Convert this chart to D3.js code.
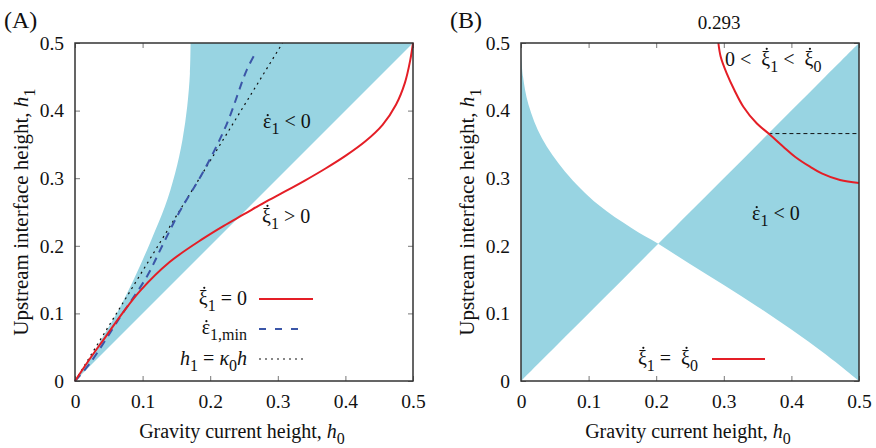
<!DOCTYPE html>
<html>
<head>
<meta charset="utf-8">
<script src="https://cdn.jsdelivr.net/npm/d3@7"></script>
<style>
  body { margin: 0; background: #fff; }
  svg { display: block; }
</style>
</head>
<body>
<div id="chart"></div>
<script>
const tickVals = [0, 0.1, 0.2, 0.3, 0.4, 0.5];
const tickLabels = ['0', '0.1', '0.2', '0.3', '0.4', '0.5'];

// panel A : upper edge of the shaded region (lower edge is h1 = h0)
const shadeA_h0 = [0, 0.025, 0.047, 0.067, 0.091, 0.113, 0.133, 0.148, 0.159, 0.166, 0.170, 0.171];
const shadeA_h1 = [0, 0.038, 0.075, 0.110, 0.159, 0.209, 0.258, 0.307, 0.357, 0.406, 0.455, 0.5];

// panel A : xi1 dot = 0
const redA_h0 = [0, 0.02, 0.045, 0.07, 0.096, 0.14, 0.19, 0.22, 0.25, 0.28, 0.31, 0.34, 0.37, 0.40, 0.43, 0.455, 0.475, 0.488, 0.496, 0.5];
const redA_h1 = [0, 0.03, 0.065, 0.10, 0.133, 0.176, 0.211, 0.2296, 0.2467, 0.264, 0.28, 0.2965, 0.314, 0.333, 0.355, 0.379, 0.409, 0.441, 0.475, 0.5];

// panel A : eps1,min
const blueA_h0 = [0, 0.022, 0.067, 0.106, 0.131, 0.155, 0.19, 0.224, 0.254, 0.268];
const blueA_h1 = [0, 0.026, 0.095, 0.154, 0.204, 0.251, 0.31, 0.379, 0.46, 0.487];

// panel A : h1 = kappa0 h
const dotA_h0 = [0, 0.307];
const dotA_h1 = [0, 0.5];

// panel B : boundary curve (shaded between it and h1 = h0)
const shadeB_h0 = [0, 0.003, 0.011, 0.031, 0.065, 0.114, 0.164, 0.203, 0.25, 0.30, 0.35, 0.40, 0.45, 0.5];
const shadeB_h1 = [0.485, 0.45, 0.409, 0.359, 0.31, 0.261, 0.226, 0.203, 0.173, 0.142, 0.11, 0.076, 0.040, 0];

// panel B : xi1 dot = xi0 dot
const redB_h0 = [0.292, 0.2954, 0.3043, 0.3156, 0.3289, 0.3486, 0.3659, 0.388, 0.4053, 0.4275, 0.4448, 0.4719, 0.5];
const redB_h1 = [0.5, 0.4797, 0.4551, 0.4305, 0.4058, 0.3812, 0.3664, 0.3466, 0.3318, 0.317, 0.3072, 0.2973, 0.293];

// panel B : horizontal dashed level
const dashB_h0 = [0.366, 0.5];
const dashB_h1 = [0.366, 0.366];

const W = 876, H = 448;
const size = 338, plotTop = 43;
const fillCol = '#98d4e2', redCol = '#e41e26', blueCol = '#3b56a8';
const FS = 20;
const TICK_FS = 19.5;
const FONT = '"Liberation Serif"';
const smooth = d3.curveCatmullRom.alpha(0.5);

const svg = d3.select('#chart').append('svg').attr('width', W).attr('height', H);

// text with subscripts, italics and dotted letters (dot: 'x' short letter, 't' tall letter)
function rich(sel, x, y, parts, anchor, fs) {
  fs = fs || FS;
  const t = sel.append('text').attr('x', x).attr('y', y)
    .attr('text-anchor', anchor || 'start').attr('font-size', fs)
    .attr('xml:space', 'preserve').style('white-space', 'pre')
    .style('font-family', FONT).attr('fill', '#111');
  let shift = 0, n = 0;
  const dots = [];
  parts.forEach(p => {
    const ts = t.append('tspan').text(p.t);
    const want = p.sub ? fs * 0.32 : 0;
    if (want !== shift) { ts.attr('dy', want - shift); shift = want; }
    if (p.sub) ts.attr('font-size', fs * 0.8);
    if (p.i) ts.attr('font-style', 'italic');
    if (p.dot) dots.push({ idx: n, kind: p.dot });
    n += p.t.length;
  });
  const max = t.node().getNumberOfChars();
  dots.forEach(d => {
    if (d.idx >= max) return;
    const e = t.node().getExtentOfChar(d.idx);
    sel.append('circle')
      .attr('cx', e.x + e.width / 2 + (d.kind === 't' ? 1 : 0.5))
      .attr('cy', y - fs * (d.kind === 't' ? 0.86 : 0.64))
      .attr('r', 1.1).attr('fill', '#111');
  });
  return t;
}

function panel(left, letter) {
  const x = d3.scaleLinear().domain([0, 0.5]).range([left, left + size]);
  const y = d3.scaleLinear().domain([0, 0.5]).range([plotTop + size, plotTop]);
  const g = svg.append('g');

  const fmt = (d, i) => tickLabels[i];
  const ax = (gen, tr) => {
    const a = g.append('g').attr('transform', tr).call(gen);
    a.attr('font-family', null);
    a.select('.domain').remove();
    a.selectAll('.tick line').attr('stroke', '#777');
    a.selectAll('text').attr('font-size', TICK_FS).style('font-family', FONT).attr('fill', '#111');
    return a;
  };
  ax(d3.axisBottom(x).tickValues(tickVals).tickFormat(fmt).tickSize(-5).tickPadding(13), `translate(0,${plotTop + size})`);
  ax(d3.axisLeft(y).tickValues(tickVals).tickFormat(fmt).tickSize(-5).tickPadding(11), `translate(${left},0)`);
  ax(d3.axisTop(x).tickValues(tickVals).tickFormat('').tickSize(-5), `translate(0,${plotTop})`);
  ax(d3.axisRight(y).tickValues(tickVals).tickFormat('').tickSize(-5), `translate(${left + size},0)`);

  // titles
  rich(svg, left - 71, 28, [{ t: '(' + letter + ')' }], 'start', 24);
  rich(svg, left + size / 2 - 2, 438, [{ t: 'Gravity current height, ' }, { t: 'h', i: 1 }, { t: '0', sub: 1 }], 'middle', 20);
  rich(svg.append('g').attr('transform', `translate(${left - 47},${plotTop + size / 2}) rotate(-90)`), 0, 0,
    [{ t: 'Upstream interface height, ' }, { t: 'h', i: 1 }, { t: '1', sub: 1 }], 'middle', 21);

  return { g, x, y };
}

// ---------- panel A ----------
{
  const { g, x, y } = panel(75, 'A');
  const pts = shadeA_h0.map((d, i) => [d, shadeA_h1[i]]);
  const upper = d3.line().x(d => x(d[0])).y(d => y(d[1])).curve(smooth);
  const path = upper(pts) + `L${x(0.5)},${y(0.5)}L${x(0)},${y(0)}Z`;
  g.append('path').attr('d', path).attr('fill', fillCol);

  const ln = (xs, ys, curve) => d3.line().x((d, i) => x(xs[i])).y((d, i) => y(ys[i])).curve(curve)(xs);
  g.append('path').attr('d', ln(dotA_h0, dotA_h1, d3.curveLinear))
    .attr('fill', 'none').attr('stroke', '#111').attr('stroke-width', 1.2).attr('stroke-dasharray', '2,4');
  g.append('path').attr('d', ln(blueA_h0, blueA_h1, smooth))
    .attr('fill', 'none').attr('stroke', blueCol).attr('stroke-width', 2).attr('stroke-dasharray', '8,6');
  g.append('path').attr('d', ln(redA_h0, redA_h1, smooth))
    .attr('fill', 'none').attr('stroke', redCol).attr('stroke-width', 2);

  g.append('rect').attr('x', x(0)).attr('y', y(0.5)).attr('width', size).attr('height', size)
    .attr('fill', 'none').attr('stroke', '#333').attr('stroke-width', 1.5);

  rich(g, 263, 128, [{ t: 'ε', dot: 'x' }, { t: '1', sub: 1 }, { t: ' < 0' }]);
  rich(g, 262, 223, [{ t: 'ξ', dot: 't' }, { t: '1', sub: 1 }, { t: ' > 0' }]);

  // legend
  rich(g, 247, 305, [{ t: 'ξ', dot: 't' }, { t: '1', sub: 1 }, { t: ' = 0' }], 'end');
  rich(g, 247, 334, [{ t: 'ε', dot: 'x' }, { t: '1,min', sub: 1 }], 'end');
  rich(g, 247, 365, [{ t: 'h', i: 1 }, { t: '1', sub: 1 }, { t: ' = ' }, { t: 'κ', i: 1 }, { t: '0', sub: 1 }, { t: 'h', i: 1 }], 'end');
  g.append('line').attr('x1', 259).attr('x2', 313).attr('y1', 299).attr('y2', 299)
    .attr('stroke', redCol).attr('stroke-width', 2);
  g.append('line').attr('x1', 259).attr('x2', 305).attr('y1', 329).attr('y2', 329)
    .attr('stroke', blueCol).attr('stroke-width', 2).attr('stroke-dasharray', '7,9');
  g.append('line').attr('x1', 259).attr('x2', 307).attr('y1', 359).attr('y2', 359)
    .attr('stroke', '#111').attr('stroke-width', 1.2).attr('stroke-dasharray', '2,4');
}

// ---------- panel B ----------
{
  const { g, x, y } = panel(521, 'B');
  const area = d3.area()
    .x((d, i) => x(shadeB_h0[i]))
    .y0((d, i) => y(shadeB_h0[i]))
    .y1((d, i) => y(shadeB_h1[i]))
    .curve(smooth);
  g.append('path').attr('d', area(shadeB_h0)).attr('fill', fillCol);

  const ln = (xs, ys, curve) => d3.line().x((d, i) => x(xs[i])).y((d, i) => y(ys[i])).curve(curve)(xs);
  g.append('path').attr('d', ln(dashB_h0, dashB_h1, d3.curveLinear))
    .attr('fill', 'none').attr('stroke', '#111').attr('stroke-width', 1).attr('stroke-dasharray', '4,3');
  g.append('path').attr('d', ln(redB_h0, redB_h1, smooth))
    .attr('fill', 'none').attr('stroke', redCol).attr('stroke-width', 2);

  g.append('rect').attr('x', x(0)).attr('y', y(0.5)).attr('width', size).attr('height', size)
    .attr('fill', 'none').attr('stroke', '#333').attr('stroke-width', 1.5);

  rich(svg, x(0.293), 29, [{ t: '0.293' }], 'middle', 19);
  rich(g, 725, 66, [{ t: '0 <  ' }, { t: 'ξ', dot: 't' }, { t: '1', sub: 1 }, { t: ' <  ' }, { t: 'ξ', dot: 't' }, { t: '0', sub: 1 }]);
  rich(g, 752, 220, [{ t: 'ε', dot: 'x' }, { t: '1', sub: 1 }, { t: ' < 0' }]);

  rich(g, 698, 365, [{ t: 'ξ', dot: 't' }, { t: '1', sub: 1 }, { t: ' =  ' }, { t: 'ξ', dot: 't' }, { t: '0', sub: 1 }], 'end');
  g.append('line').attr('x1', 712).attr('x2', 765).attr('y1', 359).attr('y2', 359)
    .attr('stroke', redCol).attr('stroke-width', 2);
}
</script>
</body>
</html>
